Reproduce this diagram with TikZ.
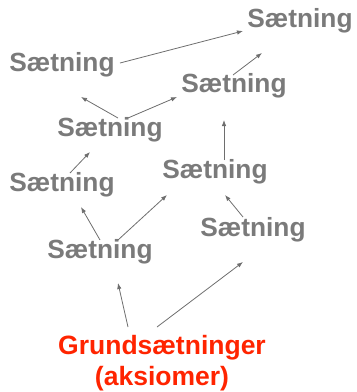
\documentclass[tikz,border=0pt]{standalone}
\usepackage{fontspec}
\setmainfont{Liberation Sans}
\usetikzlibrary{calc,arrows.meta}
\definecolor{thmgray}{HTML}{7A7A7A}
\definecolor{linegray}{HTML}{6E6E6E}
\definecolor{axred}{HTML}{FF2400}
\tikzset{
  thm/.style={inner sep=0pt, text=thmgray, font=\fontsize{26.3}{31}\selectfont\bfseries},
  axiom/.style={inner sep=0pt, text=axred, align=center, font=\fontsize{26.5}{31}\selectfont\bfseries},
  arr/.style={draw=linegray, line width=0.8pt, -{Latex[length=6pt,width=4.5pt]}}
}
\begin{document}
\begin{tikzpicture}[x=1pt,y=-1pt]
\useasboundingbox (0,0) rectangle (357,392);
% theorems
\node[thm] (n1) at (300,21) {Sætning};
\node[thm] (n2) at (62,65) {Sætning};
\node[thm] (n3) at (234,86) {Sætning};
\node[thm] (n4) at (110,130) {Sætning};
\node[thm] (n5) at (62,185) {Sætning};
\node[thm] (n6) at (215,172) {Sætning};
\node[thm] (n7) at (253,230) {Sætning};
\node[thm] (n8) at (100,252) {Sætning};
% axioms
\node[axiom] (g) at (162,363) {Grundsætninger\\(aksiomer)};
% deductions
\draw[arr] ($(n2)+(58,-2)$) -- ($(n1)+(-57,10)$);
\draw[arr] ($(n3)+(-1,-11)$) -- ($(n1)+(-38,32)$);
\draw[arr] ($(n4)+(8,-12)$) -- ($(n2)+(19,32)$);
\draw[arr] ($(n4)+(18,-12)$) -- ($(n3)+(-57,11)$);
\draw[arr] ($(n5)+(8,-12)$) -- ($(n4)+(-20,22)$);
\draw[arr] ($(n6)+(9,-12)$) -- ($(n3)+(-10,34)$);
\draw[arr] ($(n8)+(0,-12)$) -- ($(n5)+(19,22)$);
\draw[arr] ($(n8)+(18,-12)$) -- ($(n6)+(-48,23)$);
\draw[arr] ($(n7)+(-10,-13)$) -- ($(n6)+(10,23)$);
\draw[arr] ($(g)+(-34,-36)$) -- ($(n8)+(18,31)$);
\draw[arr] ($(g)+(-5,-36)$) -- ($(n7)+(-10,32)$);
\end{tikzpicture}
\end{document}
